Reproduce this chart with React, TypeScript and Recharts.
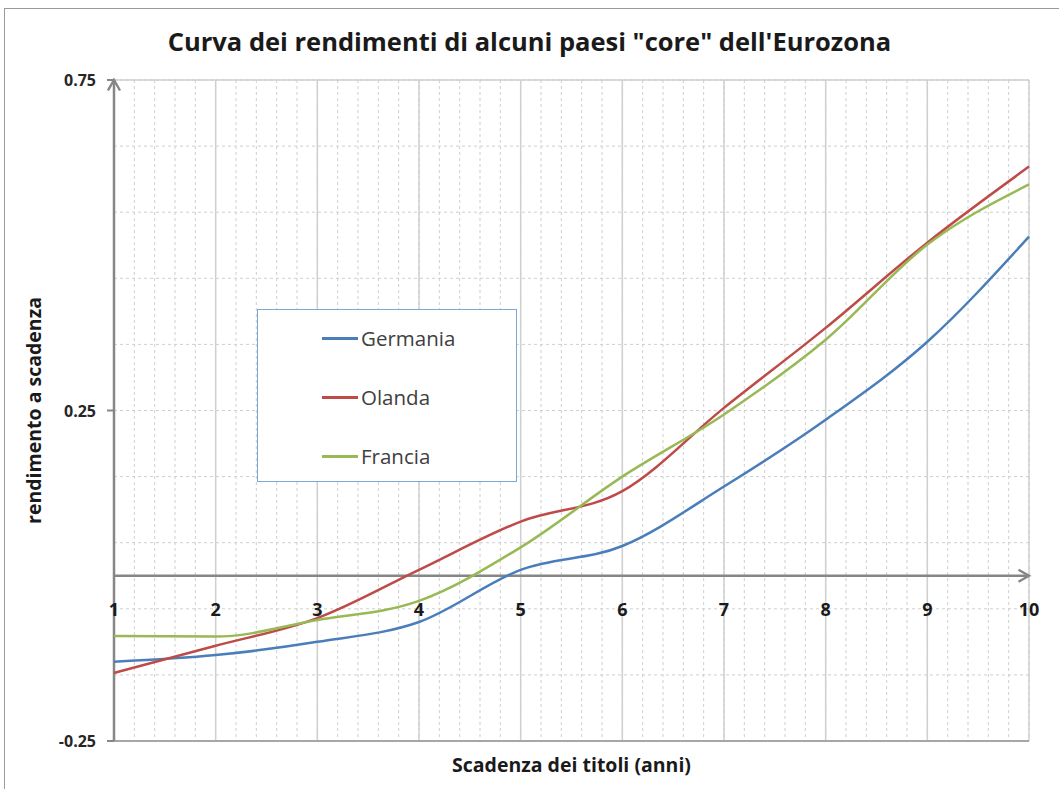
import { LineChart, Line, XAxis, YAxis, CartesianGrid, ReferenceLine } from 'recharts';

// scadenza (anni)
const maturities = [1, 2, 3, 4, 5, 6, 7, 8, 9, 10];
const germania = [-0.13, -0.12, -0.1, -0.07, 0.009, 0.045, 0.135, 0.236, 0.354, 0.513];
const olanda = [-0.147, -0.106, -0.064, 0.009, 0.082, 0.128, 0.254, 0.375, 0.504, 0.619];
const francia = [-0.091, -0.092, -0.067, -0.038, 0.043, 0.15, 0.244, 0.357, 0.501, 0.592];

const yLabels = [-0.25, 0.25, 0.75];
const Y_MIN = -0.25;
const Y_MAX = 0.75;

const data = maturities.map((m, i) => ({
    anni: m,
    Germania: germania[i],
    Olanda: olanda[i],
    Francia: francia[i],
}));

// minor grid every 0.2 on x, every 0.1 on y
const xTicks = Array.from({ length: 46 }, (_, i) => Math.round((1 + i * 0.2) * 10) / 10);
const yTicks = Array.from({ length: 11 }, (_, i) => Math.round((Y_MIN + i * 0.1) * 100) / 100);

const SERIES = [
    { key: 'Germania', color: '#4a7ebb' },
    { key: 'Olanda', color: '#be4b48' },
    { key: 'Francia', color: '#98b954' },
];

const W = 1059;
const H = 789;
const TOP = 80;
const BOTTOM = 48;
const LEFT = 114;
const RIGHT = 30;
const PLOT_H = H - TOP - BOTTOM;
const ZERO_FROM_BOTTOM = ((0 - Y_MIN) / (Y_MAX - Y_MIN)) * PLOT_H;

const FONT = '"Open Sans", "Liberation Sans", sans-serif';
const AXIS_GRAY = '#868686';
const GRID_GRAY = '#cfcfcf';

function XTick(props: any) {
    const { x, y, payload } = props;
    if (!Number.isInteger(payload.value)) return <g />;
    // labels sit just under the zero line, like Excel
    const top = y - 8 - ZERO_FROM_BOTTOM;
    return (
        <text x={x} y={top + 40} textAnchor="middle" fontFamily={FONT} fontWeight={700} fontSize={18} fill="#1a1a1a">
            {payload.value}
        </text>
    );
}

function YTick(props: any) {
    const { x, y, payload } = props;
    if (!yLabels.includes(payload.value)) return <g />;
    return (
        <g>
            <line x1={x + 1} x2={x + 8} y1={y} y2={y} stroke={AXIS_GRAY} strokeWidth={2} />
            <text x={x - 10} y={y + 6} textAnchor="end" fontFamily={FONT} fontWeight={700} fontSize={16} fill="#262626">
                {payload.value.toFixed(2)}
            </text>
        </g>
    );
}

function ArrowLine(props: any) {
    const { x1, y1, x2, y2, id } = props;
    return (
        <g>
            <defs>
                <marker id={id} viewBox="0 0 10 10" refX="8" refY="5" markerWidth="6" markerHeight="6" orient="auto-start-reverse">
                    <path d="M1,1 L8,5 L1,9" fill="none" stroke={AXIS_GRAY} strokeWidth={1.6} />
                </marker>
            </defs>
            <line
                x1={x1} y1={y1} x2={x2} y2={y2}
                stroke={AXIS_GRAY} strokeWidth={2.5}
                markerEnd={`url(#${id})`}
            />
        </g>
    );
}

function ChartLegend() {
    return (
        <div style={{
            position: 'absolute', left: 257, top: 309, width: 260, height: 173,
            border: '1.5px solid #7fa6d6', background: '#fff', boxSizing: 'border-box',
            fontFamily: FONT, fontSize: 20.5, color: '#404040',
        }}>
            {SERIES.map((s, i) => (
                <div key={s.key} style={{ position: 'absolute', left: 64, top: 14 + i * 59, display: 'flex', alignItems: 'center' }}>
                    <span style={{ display: 'inline-block', width: 36, height: 3, background: s.color, marginRight: 3 }} />
                    <span>{s.key}</span>
                </div>
            ))}
        </div>
    );
}

export default function App() {
    return (
        <div style={{ position: 'absolute', left: 0, top: 0, width: W, height: H, background: '#fff', overflow: 'hidden' }}>
            <div style={{ position: 'absolute', left: 4, top: 8, width: W, height: H, borderLeft: '1.5px solid #9a9a9a', borderTop: '1.5px solid #9a9a9a' }} />
            <div style={{
                position: 'absolute', left: 0, top: 24, width: W, textAlign: 'center',
                fontFamily: FONT, fontWeight: 700, fontSize: 25.5, color: '#1a1a1a',
            }}>
                Curva dei rendimenti di alcuni paesi "core" dell'Eurozona
            </div>
            <div style={{ position: 'absolute', left: 0, top: 0 }}>
                <LineChart width={W} height={H} data={data} margin={{ top: TOP, right: RIGHT, bottom: 0, left: 0 }}>
                    <CartesianGrid stroke={GRID_GRAY} strokeDasharray="3 3" />
                    <XAxis
                        dataKey="anni" type="number" domain={[1, 10]} ticks={xTicks} interval={0}
                        height={BOTTOM} axisLine={false} tickLine={false} tick={<XTick />}
                        label={{ value: 'Scadenza dei titoli (anni)', position: 'insideBottom', offset: 17, fontFamily: FONT, fontWeight: 700, fontSize: 19.5, fill: '#1a1a1a' }}
                    />
                    <YAxis
                        type="number" domain={[Y_MIN, Y_MAX]} ticks={yTicks} interval={0}
                        width={LEFT} axisLine={false} tickLine={false} tick={<YTick />}
                        label={{ value: 'rendimento a scadenza', angle: -90, position: 'insideLeft', offset: 34, fontFamily: FONT, fontWeight: 700, fontSize: 19.5, fill: '#1a1a1a', style: { textAnchor: 'middle' } }}
                    />
                    {maturities.slice(1).map((m) => (
                        <ReferenceLine key={m} x={m} stroke={GRID_GRAY} strokeWidth={1.5} />
                    ))}
                    <ReferenceLine y={Y_MAX} stroke={GRID_GRAY} strokeWidth={1.5} />
                    <ReferenceLine y={Y_MIN} stroke="#a6a6a6" strokeWidth={2} />
                    <ReferenceLine y={0} shape={<ArrowLine id="arrowX" />} />
                    <ReferenceLine x={1} shape={<ArrowLine id="arrowY" />} />
                    {SERIES.map((s) => (
                        <Line
                            key={s.key} type="monotone" dataKey={s.key} stroke={s.color}
                            strokeWidth={2.5} dot={false} isAnimationActive={false}
                        />
                    ))}
                </LineChart>
            </div>
            <ChartLegend />
        </div>
    );
}
